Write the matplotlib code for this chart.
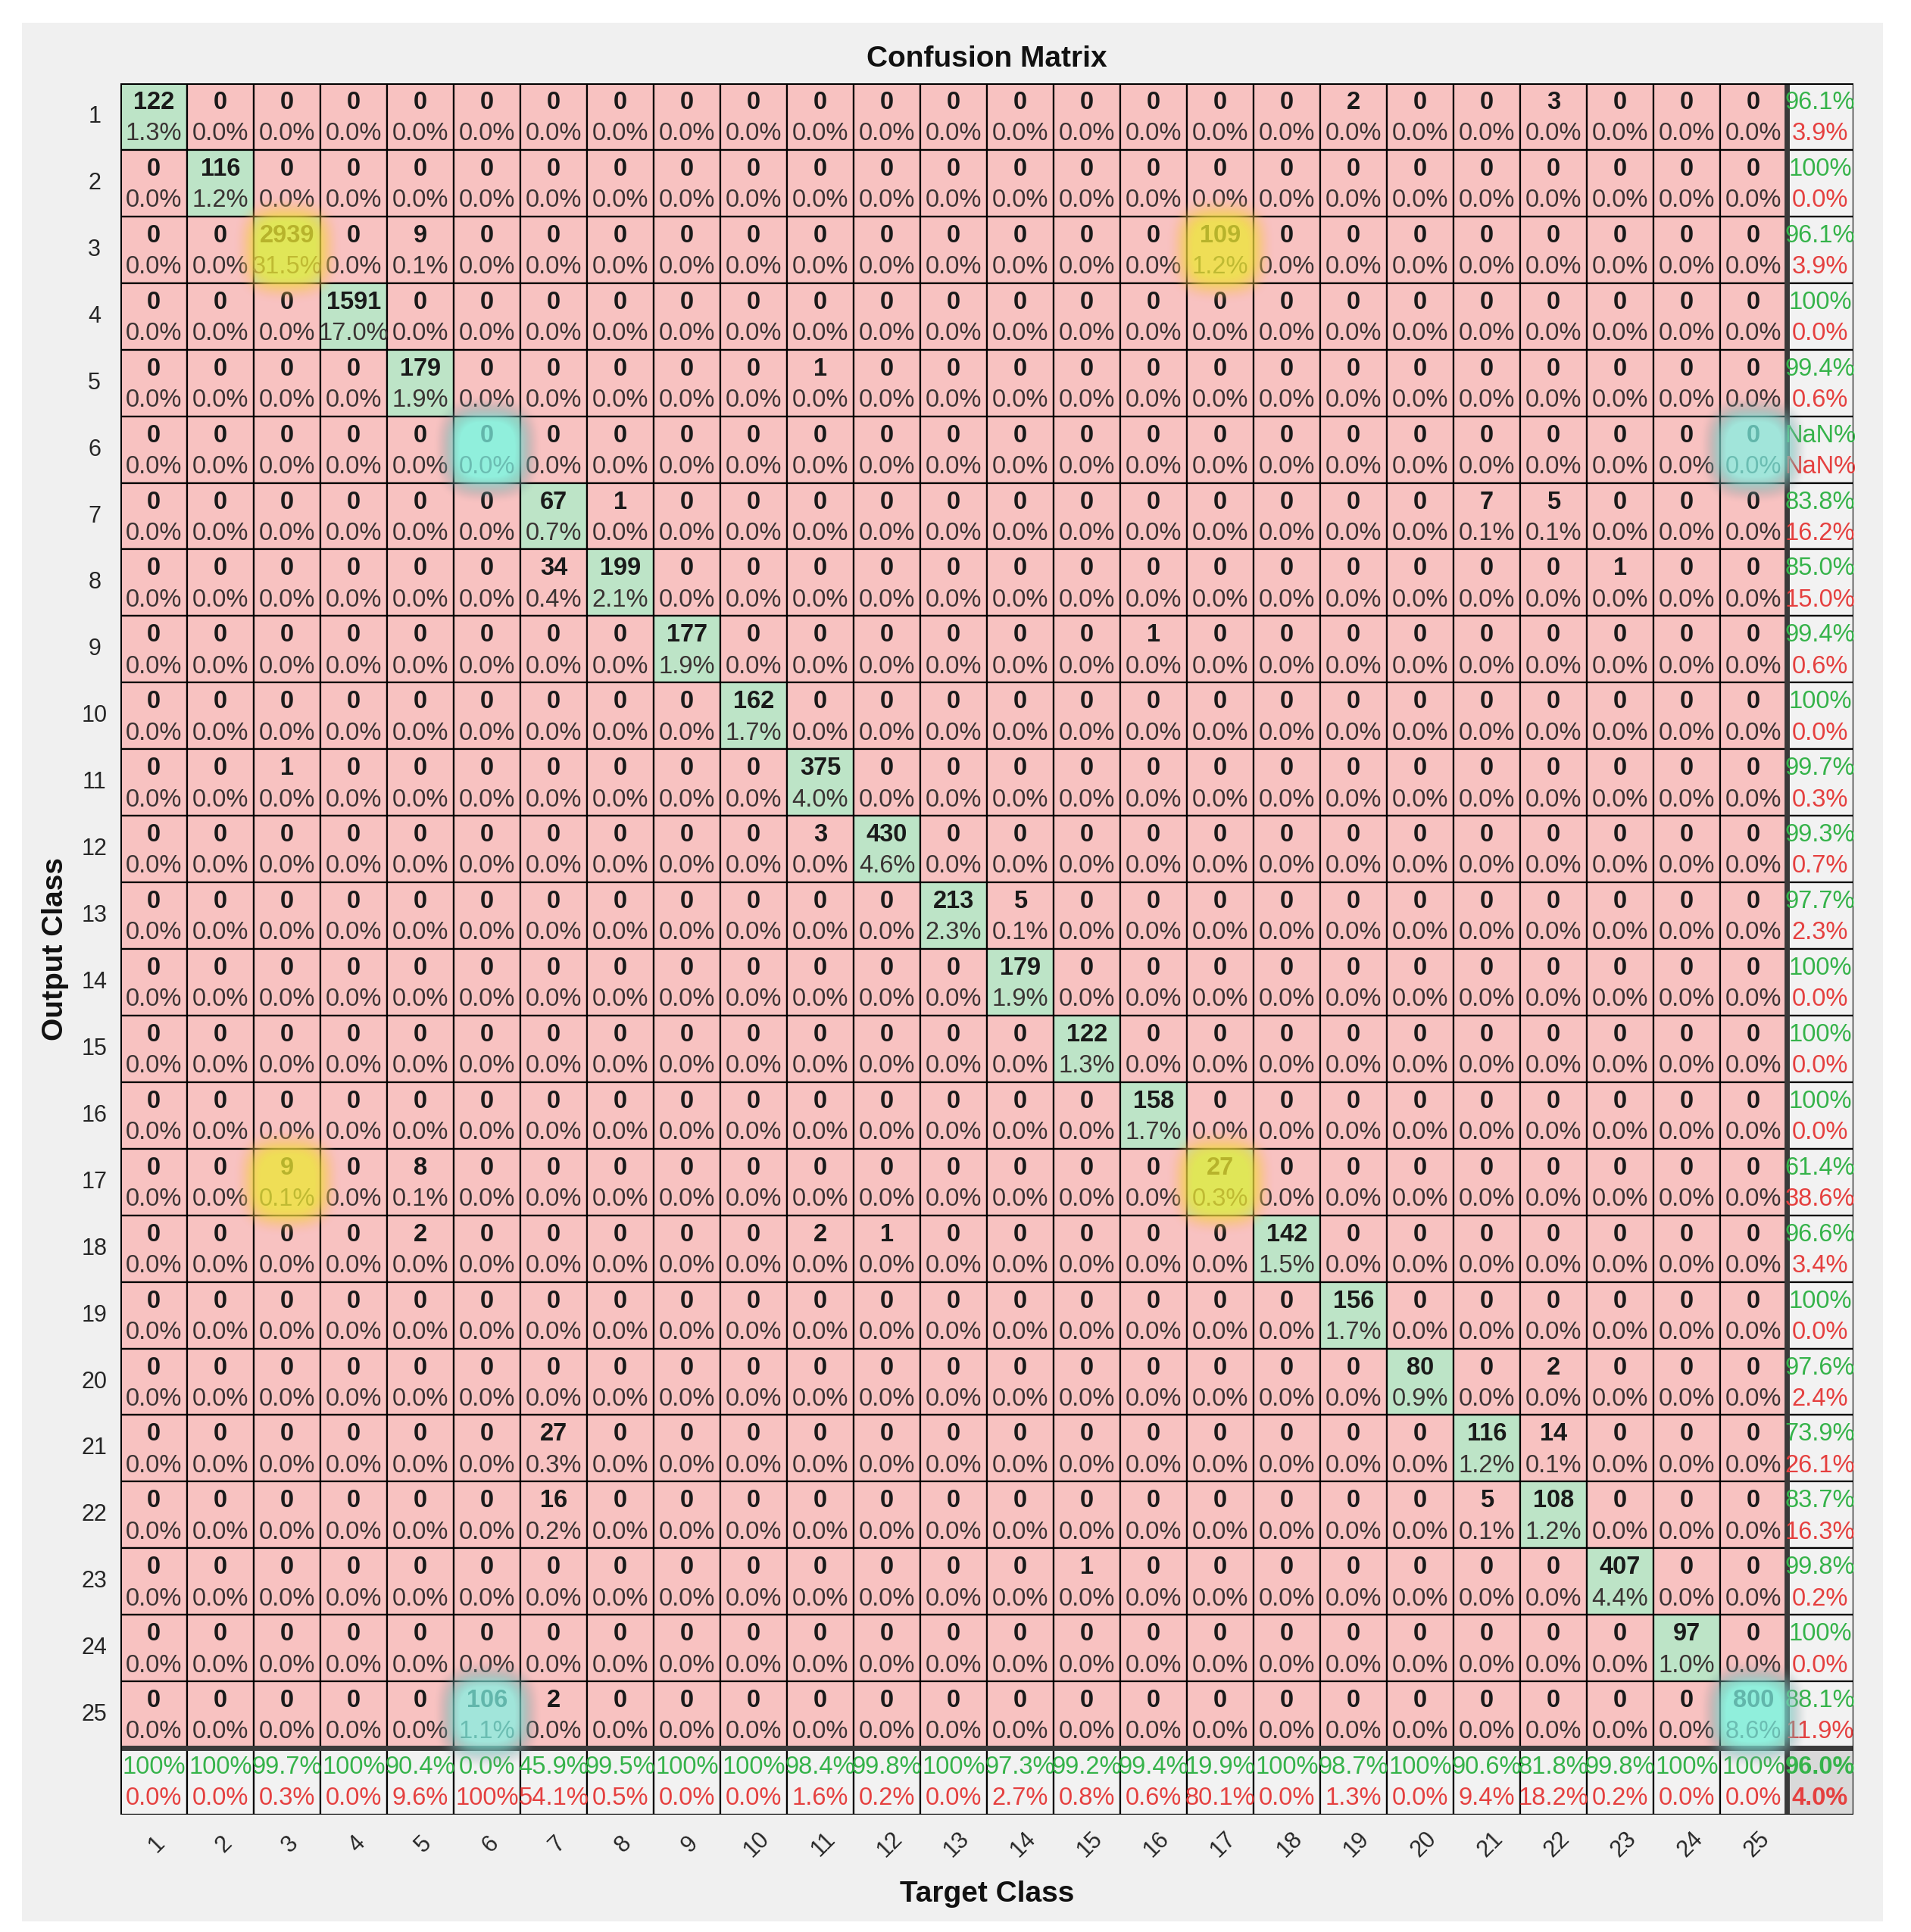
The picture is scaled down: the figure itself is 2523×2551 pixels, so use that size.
import numpy as np
import matplotlib
matplotlib.use('Agg')
import matplotlib.pyplot as plt
from matplotlib.patches import Rectangle

plt.rcParams['font.family'] = ['Liberation Sans', 'DejaVu Sans']

# class labels and counts (rows = output class, cols = target class)
class_labels = [str(i) for i in range(1, 26)]
diag_counts = [122, 116, 2939, 1591, 179, 0, 67, 199, 177, 162, 375, 430, 213,
               179, 122, 158, 27, 142, 156, 80, 116, 108, 407, 97, 800]
# off-diagonal cells: output class, target class, count
off_rows = [1, 1, 3, 3, 5, 7, 7, 7, 8, 8, 9, 11, 12, 13, 17, 17, 18, 18, 18,
            20, 21, 21, 22, 22, 23, 25, 25]
off_cols = [19, 22, 5, 17, 11, 8, 21, 22, 7, 23, 16, 3, 11, 14, 3, 5, 5, 11, 12,
            22, 7, 22, 7, 21, 15, 6, 7]
off_counts = [2, 3, 9, 109, 1, 1, 7, 5, 34, 1, 1, 1, 3, 5, 9, 8, 2, 2, 1,
              2, 27, 14, 16, 5, 1, 106, 2]

# highlighted cells (swapped class pairs)
yellow_cells = [(3, 3), (3, 17), (17, 3), (17, 17)]
cyan_cells = [(6, 6), (6, 25), (25, 6), (25, 25)]

n = len(class_labels)
cm = np.zeros((n, n), dtype=int)
for i in range(n):
    cm[i, i] = diag_counts[i]
for r, c, v in zip(off_rows, off_cols, off_counts):
    cm[r - 1, c - 1] = v
total = cm.sum()

GREEN_BG = '#bde4c7'
RED_BG = '#f8c2c1'
SUM_BG = '#f2f2f2'
GREEN_TXT = '#35b34a'
RED_TXT = '#e5403f'


def fmt_pct(v):
    if np.isnan(v):
        return 'NaN%'
    if round(v, 1) >= 100:
        return '100%'
    return f'{v:.1f}%'


W, H = 2523, 2551
fig = plt.figure(figsize=(W / 100, H / 100), dpi=100, facecolor='white')

# light gray panel behind everything
bg = fig.add_axes([29 / W, 1 - 2537 / H, (2486 - 29) / W, (2537 - 30) / H], zorder=-5)
bg.set_facecolor('#f0f0f0')
bg.set_xticks([])
bg.set_yticks([])
for s in bg.spines.values():
    s.set_visible(False)

left, right, top, bottom = 159, 2447, 110, 2396
ax = fig.add_axes([left / W, 1 - bottom / H, (right - left) / W, (bottom - top) / H])
ax.set_xlim(0, n + 1)
ax.set_ylim(n + 1, 0)
ax.axis('off')

fs = 23.5
# main cells
for i in range(n):
    for j in range(n):
        fc = GREEN_BG if i == j else RED_BG
        ax.add_patch(Rectangle((j, i), 1, 1, facecolor=fc, edgecolor='black', lw=1.6, zorder=1))
        ax.text(j + 0.5, i + 0.29, str(cm[i, j]), ha='center', va='center',
                fontsize=fs, fontweight='bold', color='#1a1a1a', zorder=3)
        ax.text(j + 0.5, i + 0.76, f'{100 * cm[i, j] / total:.1f}%', ha='center', va='center',
                fontsize=fs, color='#3a3333', zorder=3)

# right column: precision per output class
row_sums = cm.sum(axis=1)
col_sums = cm.sum(axis=0)
for i in range(n):
    acc = 100 * cm[i, i] / row_sums[i] if row_sums[i] > 0 else np.nan
    err = 100 - acc
    ax.add_patch(Rectangle((n, i), 1, 1, facecolor=SUM_BG, edgecolor='black', lw=1.6, zorder=1))
    ax.text(n + 0.5, i + 0.29, fmt_pct(acc), ha='center', va='center', fontsize=fs, color=GREEN_TXT, zorder=3)
    ax.text(n + 0.5, i + 0.76, fmt_pct(err), ha='center', va='center', fontsize=fs, color=RED_TXT, zorder=3)

# bottom row: recall per target class
for j in range(n):
    acc = 100 * cm[j, j] / col_sums[j] if col_sums[j] > 0 else np.nan
    err = 100 - acc
    ax.add_patch(Rectangle((j, n), 1, 1, facecolor=SUM_BG, edgecolor='black', lw=1.6, zorder=1))
    ax.text(j + 0.5, n + 0.29, fmt_pct(acc), ha='center', va='center', fontsize=fs, color=GREEN_TXT, zorder=3)
    ax.text(j + 0.5, n + 0.76, fmt_pct(err), ha='center', va='center', fontsize=fs, color=RED_TXT, zorder=3)

# overall accuracy
overall = 100 * np.trace(cm) / total
ax.add_patch(Rectangle((n, n), 1, 1, facecolor='#d9d9d9', edgecolor='black', lw=1.6, zorder=1))
ax.text(n + 0.5, n + 0.29, fmt_pct(overall), ha='center', va='center', fontsize=fs,
        fontweight='bold', color=GREEN_TXT, zorder=3)
ax.text(n + 0.5, n + 0.76, fmt_pct(100 - overall), ha='center', va='center', fontsize=fs,
        fontweight='bold', color=RED_TXT, zorder=3)

# thick separators and outer border
ax.plot([n, n], [0, n + 1], color='#3a3a3a', lw=5, zorder=2, solid_capstyle='butt')
ax.plot([0, n + 1], [n, n], color='#3a3a3a', lw=5, zorder=2, solid_capstyle='butt')
ax.add_patch(Rectangle((0, 0), n + 1, n + 1, facecolor='none', edgecolor='black', lw=2.2, zorder=2))


def glow(row, col, inner, outer, a0=0.75, R=0.82):
    m = 141
    t = np.linspace(-R, R, m)
    xx, yy = np.meshgrid(t, t)
    # squarish falloff so the glow fills the cell
    r = (np.abs(xx) ** 3 + np.abs(yy) ** 3) ** (1 / 3) / R
    w = np.clip((r - 0.5) / 0.4, 0, 1)
    img = np.zeros((m, m, 4))
    for k in range(3):
        img[..., k] = inner[k] * (1 - w) + outer[k] * w
    a = np.clip((1 - r) / 0.45, 0, 1)
    img[..., 3] = a0 * a * a * (3 - 2 * a)
    cx, cy = col - 0.5, row - 0.5
    ax.imshow(img, extent=(cx - R, cx + R, cy + R, cy - R), aspect='auto',
              interpolation='bilinear', zorder=5)


for r, c in yellow_cells:
    glow(r, c, (0.93, 0.91, 0.20), (0.99, 0.72, 0.38))
for r, c in cyan_cells:
    glow(r, c, (0.50, 0.96, 0.90), (0.45, 0.55, 0.57), a0=0.72)

ax.set_xlim(0, n + 1)
ax.set_ylim(n + 1, 0)

# tick labels
for i, lab in enumerate(class_labels):
    ax.text(-0.39, i + 0.5, lab, ha='center', va='center', fontsize=22, color='#262626', clip_on=False)
    ax.text(i + 0.55, n + 1.45, lab, ha='center', va='center', fontsize=22, color='#262626',
            rotation=45, clip_on=False)

ax.text((n + 1) / 2, -0.36, 'Confusion Matrix', ha='center', va='center', fontsize=28,
        fontweight='bold', color='#111111', clip_on=False)
ax.text((n + 1) / 2, n + 2.19, 'Target Class', ha='center', va='center', fontsize=28,
        fontweight='bold', color='#111111', clip_on=False)
ax.text(-0.98, (n + 1) / 2, 'Output Class', ha='center', va='center', fontsize=28,
        fontweight='bold', color='#111111', rotation=90, clip_on=False)

fig.savefig('out.png', dpi=100, facecolor='white')
